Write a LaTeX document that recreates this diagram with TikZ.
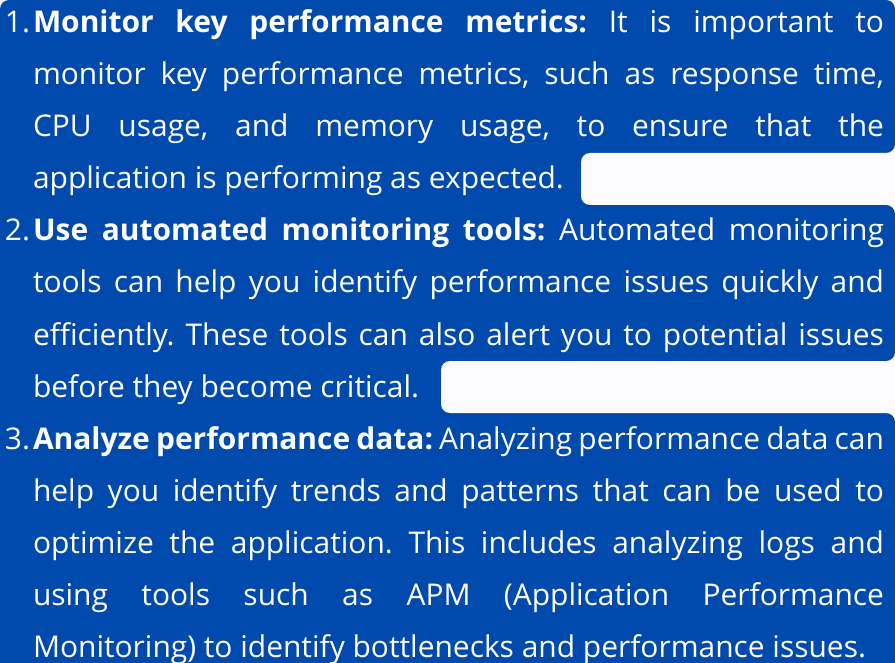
\documentclass[tikz,border=0pt]{standalone}
\usepackage{fontspec}
\setmainfont{Open Sans}
\definecolor{hlblue}{RGB}{0,74,173}
\definecolor{cutwhite}{RGB}{252,252,254}
\newlength\reflw
\frenchspacing
\begin{document}
\frenchspacing
\settowidth\reflw{\fontsize{10pt}{12pt}\selectfont Monitoring) to identify bottlenecks and performance issues.}
\pgfmathsetmacro\fsz{10*833/\reflw}
\begin{tikzpicture}[x=1pt,y=-1pt,
  band/.style={fill=hlblue, draw=none, rounded corners=9pt},
  cut/.style={fill=cutwhite, draw=none, rounded corners=9pt},
  txt/.style={font=\frenchspacing\fontsize{\fsz pt}{\fsz pt}\selectfont, text=white, anchor=base west, inner sep=0pt, outer sep=0pt}]
\useasboundingbox (0,0) rectangle (895,663);
\fill[white] (0,0) rectangle (895,663);
% highlight bands
\fill[band] (0,0) rectangle (895,153);
\fill[band] (0,150) rectangle (596,208);
\fill[band] (0,205) rectangle (895,361);
\fill[band] (0,358) rectangle (456,416);
\fill[band] (0,413) rectangle (895,675);
\fill[hlblue] (0,12) rectangle (30,670);
% white cut-outs
\fill[cut] (581,153) rectangle (910,205);
\fill[cut] (441,361) rectangle (910,413);
% numbers
\node[txt] (n1) at (5,33) {1.};
\node[txt] (n2) at (5,241) {2.};
\node[txt] (n3) at (5,449) {3.};
% text lines
\node[txt] (l1) at (33,33) {\makebox[851pt][s]{\textbf{Monitor key performance metrics:} It is important to}};
\node[txt] (l2) at (33,85) {\makebox[851pt][s]{monitor key performance metrics, such as response time,}};
\node[txt] (l3) at (33,137) {\makebox[851pt][s]{CPU usage, and memory usage, to ensure that the}};
\node[txt] (l4) at (33,189) {application is performing as expected.};
\node[txt] (l5) at (33,241) {\makebox[851pt][s]{\textbf{Use automated monitoring tools:} Automated monitoring}};
\node[txt] (l6) at (33,293) {\makebox[851pt][s]{tools can help you identify performance issues quickly and}};
\node[txt] (l7) at (33,345) {\makebox[851pt][s]{efficiently. These tools can also alert you to potential issues}};
\node[txt] (l8) at (33,397) {before they become critical.};
\node[txt] (l9) at (33,449) {\makebox[851pt][s]{\textbf{Analyze performance data:} Analyzing performance data can}};
\node[txt] (l10) at (33,501) {\makebox[851pt][s]{help you identify trends and patterns that can be used to}};
\node[txt] (l11) at (33,553) {\makebox[851pt][s]{optimize the application. This includes analyzing logs and}};
\node[txt] (l12) at (33,605) {\makebox[851pt][s]{using tools such as APM (Application Performance}};
\node[txt] (l13) at (33,657) {Monitoring) to identify bottlenecks and performance issues.};
\end{tikzpicture}
\end{document}
